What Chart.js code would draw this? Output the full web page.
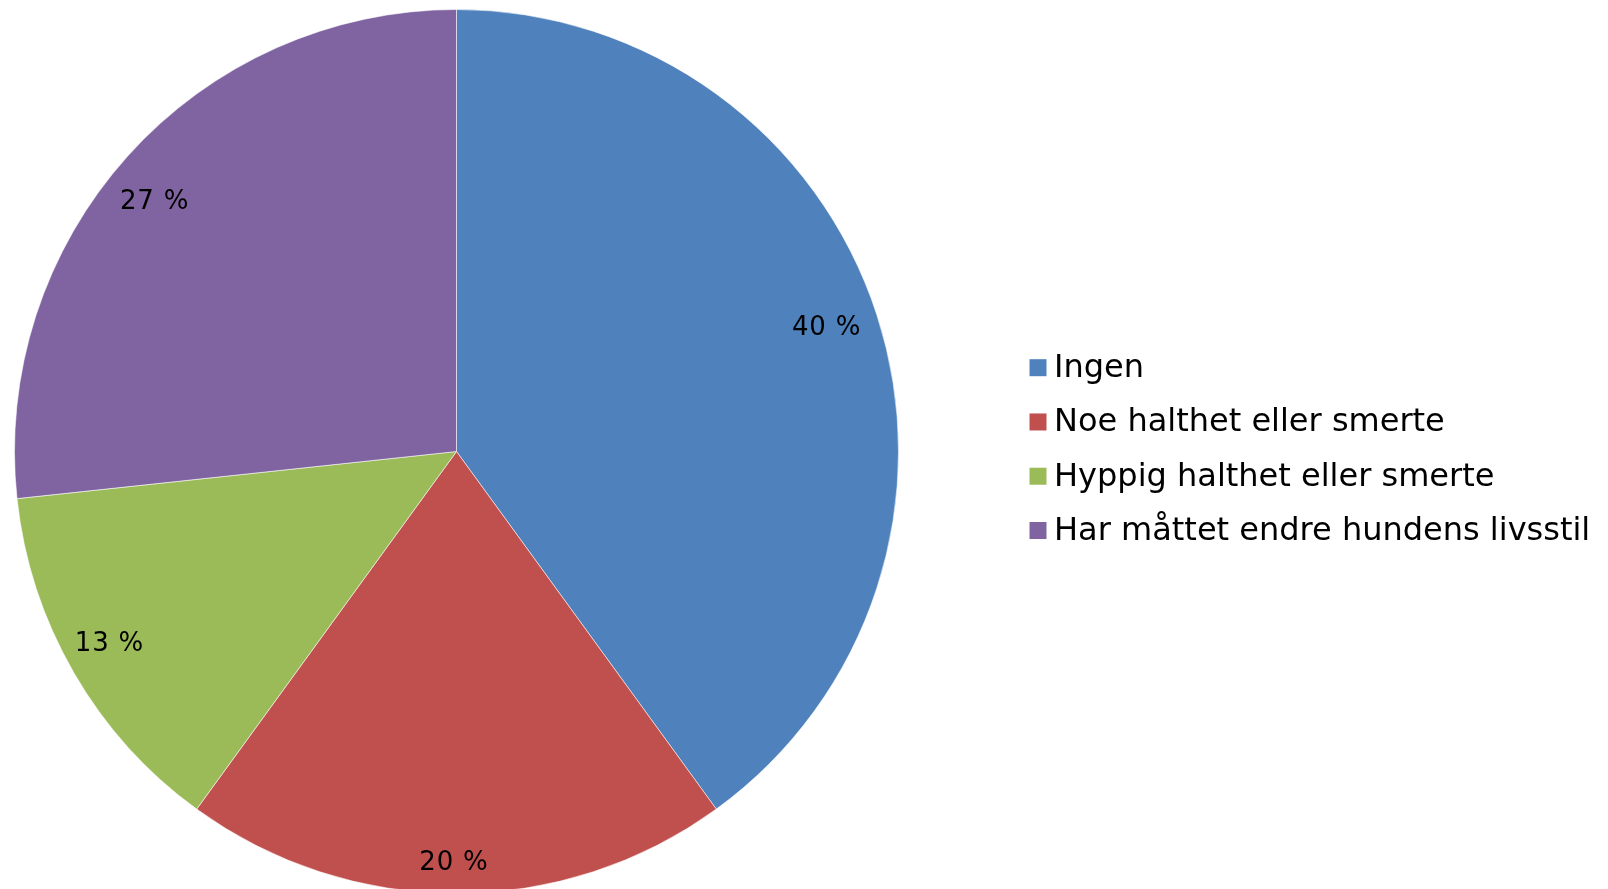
<!DOCTYPE html>
<html>
<head>
<meta charset="utf-8">
<script src="https://cdn.jsdelivr.net/npm/chart.js@4/dist/chart.umd.min.js"></script>
<style>
  html, body { margin: 0; padding: 0; background: #ffffff; overflow: hidden; }
  #wrap { position: relative; width: 1608px; height: 889px; overflow: hidden; }
  canvas { display: block; }
</style>
</head>
<body>
<div id="wrap"><canvas id="c" width="1608" height="900"></canvas></div>
<script>
const categories = ["Ingen", "Noe halthet eller smerte", "Hyppig halthet eller smerte", "Har måttet endre hundens livsstil"];
const values = [40, 20, 13.3, 26.7];
const valueLabels = ["40 %", "20 %", "13 %", "27 %"];
const colors = ["#4F81BD", "#C0504D", "#9BBB59", "#8064A2"];

const FONT = "'DejaVu Sans', Verdana, sans-serif";

const sliceLabels = {
  id: 'sliceLabels',
  afterDatasetsDraw(chart, args, opts) {
    const ctx = chart.ctx;
    const meta = chart.getDatasetMeta(0);
    ctx.save();
    ctx.font = opts.size + "px " + FONT;
    if ('letterSpacing' in ctx) ctx.letterSpacing = opts.spacing + "px";
    ctx.fillStyle = "#000";
    ctx.textAlign = "center";
    ctx.textBaseline = "middle";
    meta.data.forEach((arc, i) => {
      const p = arc.getProps(['x', 'y', 'startAngle', 'endAngle', 'outerRadius'], true);
      const mid = (p.startAngle + p.endAngle) / 2;
      const r = p.outerRadius * opts.radial;
      const sh = opts.shift[i];
      ctx.fillText(valueLabels[i], p.x + Math.cos(mid) * r + sh[0], p.y + Math.sin(mid) * r + sh[1]);
    });
    ctx.restore();
  }
};

const sideLegend = {
  id: 'sideLegend',
  afterDraw(chart, args, opts) {
    const ctx = chart.ctx;
    ctx.save();
    ctx.font = opts.size + "px " + FONT;
    ctx.textBaseline = "middle";
    ctx.textAlign = "left";
    chart.data.labels.forEach((lab, i) => {
      const cy = opts.top + i * opts.step;
      ctx.fillStyle = colors[i];
      ctx.fillRect(opts.left, cy - opts.box / 2, opts.box, opts.box);
      ctx.fillStyle = "#000";
      ctx.fillText(lab, opts.textX, cy + 1);
    });
    ctx.restore();
  }
};

new Chart(document.getElementById('c'), {
  type: 'pie',
  data: {
    labels: categories,
    datasets: [{
      data: values,
      backgroundColor: colors,
      borderColor: 'rgba(255,255,255,0.55)',
      borderWidth: 1
    }]
  },
  options: {
    responsive: false,
    animation: false,
    layout: { padding: { left: 14, top: 9, bottom: 6, right: 709 } },
    plugins: {
      legend: { display: false },
      tooltip: { enabled: false },
      sliceLabels: {
        size: 26, spacing: 0.8, radial: 0.885,
        shift: [[-2, -2], [-2.5, 21], [-8.5, -3.5], [-11, 12]]
      },
      sideLegend: { left: 1029.5, top: 367.7, step: 54.27, box: 17, textX: 1054, size: 32 }
    }
  },
  plugins: [sliceLabels, sideLegend]
});
</script>
</body>
</html>
